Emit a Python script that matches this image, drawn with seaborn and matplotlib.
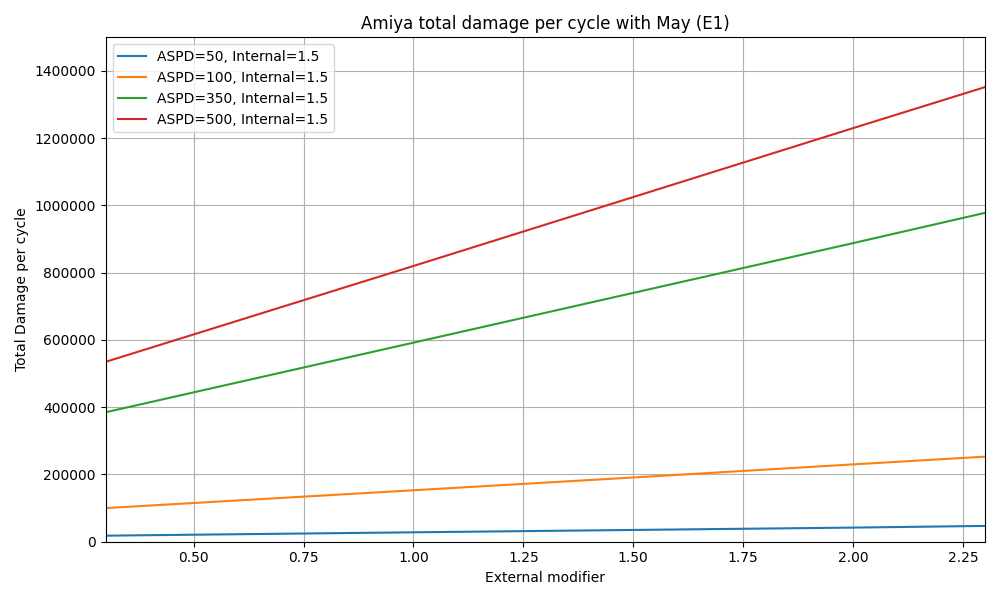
import matplotlib
matplotlib.use("Agg")
import matplotlib.pyplot as plt
import seaborn as sns
import pandas as pd

x_vals = [0.3, 1.0, 1.5, 2.0, 2.3]
labels = ["ASPD=50, Internal=1.5", "ASPD=100, Internal=1.5",
          "ASPD=350, Internal=1.5", "ASPD=500, Internal=1.5"]
aspd50 = [18000, 28000, 35000, 42000, 47000]
aspd100 = [100000, 153000, 191000, 230000, 253000]
aspd350 = [385000, 592000, 740000, 888000, 978000]
aspd500 = [535000, 820000, 1025000, 1230000, 1352000]

rows = []
for lab, ys in zip(labels, [aspd50, aspd100, aspd350, aspd500]):
    for xv, yv in zip(x_vals, ys):
        rows.append({"x": xv, "y": yv, "series": lab})
df = pd.DataFrame(rows)

fig, ax = plt.subplots(figsize=(10, 6), dpi=100)
sns.lineplot(data=df, x="x", y="y", hue="series", palette="tab10", ax=ax)
ax.set_xlim(0.3, 2.3)
ax.set_ylim(0, 1500000)
ax.ticklabel_format(style="plain", axis="y")
ax.grid(True)
ax.set_xlabel("External modifier")
ax.set_ylabel("Total Damage per cycle")
ax.set_title("Amiya total damage per cycle with May (E1)")
ax.legend(title=None, loc="upper left")
fig.tight_layout()
fig.savefig("out.png")
